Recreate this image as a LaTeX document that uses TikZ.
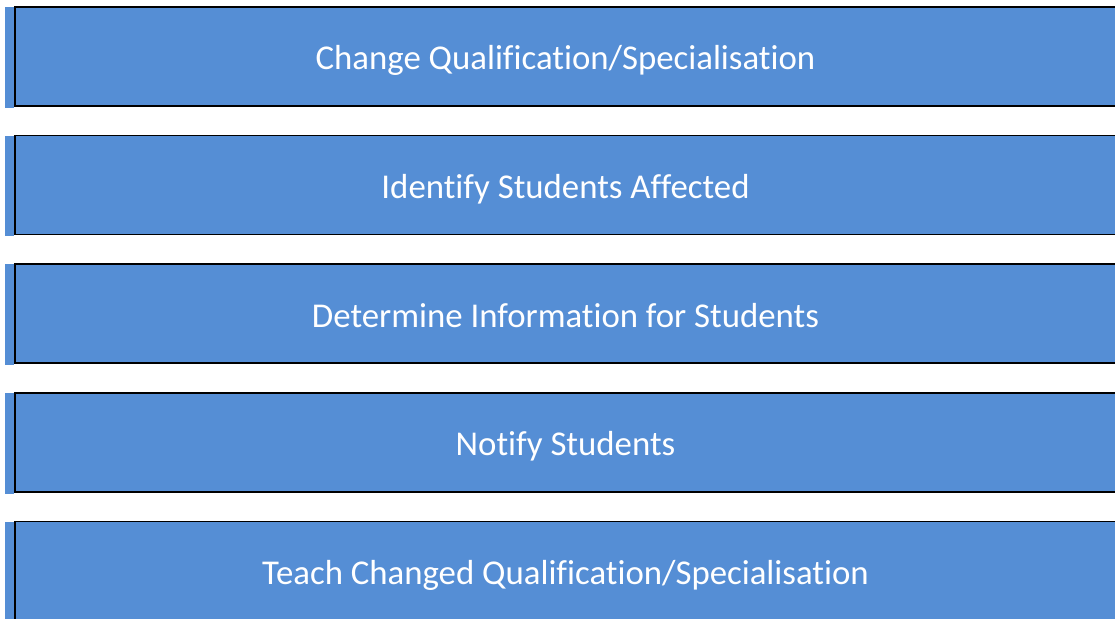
\documentclass[tikz,border=0pt]{standalone}
\usepackage{fontspec}
\setmainfont{Carlito}[Ligatures=NoCommon]
\usetikzlibrary{positioning}
\definecolor{boxblue}{RGB}{85,142,213}

\begin{document}
\begin{tikzpicture}[x=1pt,y=-1pt,node distance=28pt,
    stepbox/.style={rectangle,draw=black,line width=1.6pt,fill=boxblue,text=white,
      minimum width=1101pt,minimum height=99pt,text height=27pt,text depth=0pt,
      font=\fontsize{34.8}{40}\selectfont}]
  \useasboundingbox (0,0) rectangle (1115,618);
  \clip (0,0) rectangle (1115,618);
  \node[stepbox] (S_1) at (565.5,56.5) {Change Qualification/Specialisation};
  \node[stepbox] (S_2) [below=of S_1] {Identify Students Affected};
  \node[stepbox] (S_3) [below=of S_2] {Determine Information for Students};
  \node[stepbox] (S_4) [below=of S_3] {Notify Students};
  \node[stepbox] (S_5) [below=of S_4] {Teach Changed Qualification/Specialisation};
  \foreach \s in {S_1,S_2,S_3,S_4,S_5}
    \fill[boxblue] ([xshift=-9pt,yshift=-1pt]\s.north west) rectangle ([yshift=-1pt]\s.south west);
\end{tikzpicture}
\end{document}
